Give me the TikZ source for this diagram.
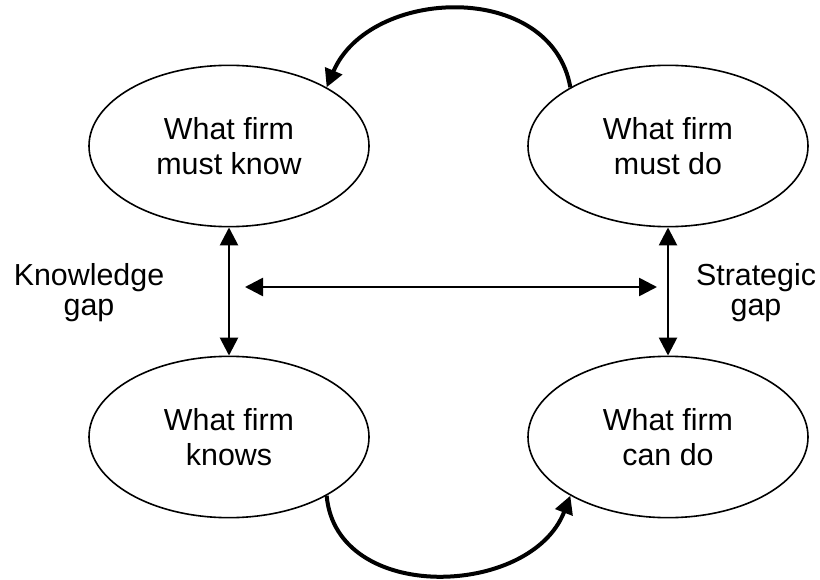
\documentclass[tikz,border=0pt]{standalone}
\usepackage{fontspec}
\setmainfont{Liberation Sans}
\usetikzlibrary{arrows.meta, shapes.geometric}

\begin{document}
\begin{tikzpicture}[x=0.75pt,y=0.75pt,>={Triangle[length=13.5pt,width=13.5pt]},node distance=329.25pt]
                \tikzset{every node/.style={font=\fontsize{22.8}{26.2}\selectfont, align=center}}
                \tikzset{firm/.style={ellipse, draw, line width=1.2pt, minimum width=210pt, minimum height=121pt, inner sep=0pt}}
                \tikzset{gap/.style={<->, line width=2pt}, cycle/.style={->, line width=3pt, looseness=1.15}}
                \useasboundingbox (0,0) rectangle (820,579);

                \node[firm] (mustknow) at (229,433) {What firm\\must know};
                \node[firm] (mustdo) [right of=mustknow] {What firm\\must do};
                \node[firm] (knows) [below of=mustknow, node distance=218.25pt] {What firm\\knows};
                \node[firm] (cando) [below of=mustdo, node distance=218.25pt] {What firm\\can do};

                \node[font=\fontsize{22.8}{22.5}\selectfont] (kgap) at (89,286) {Knowledge\\gap};
                \node[font=\fontsize{22.8}{22.5}\selectfont] (sgap) at (756,286) {Strategic\\gap};

                \coordinate (gapl) at (245,292);
                \coordinate (gapr) at (657,292);

                \path (mustknow) edge[gap] (knows);
                \path (mustdo) edge[gap] (cando);
                \path (gapl) edge[gap] (gapr);
                \path (mustdo.149) edge[cycle, out=100, in=67] (mustknow.31);
                \path (knows.-31) edge[cycle, out=-85, in=-111] (cando.211);
            \end{tikzpicture}
\end{document}
